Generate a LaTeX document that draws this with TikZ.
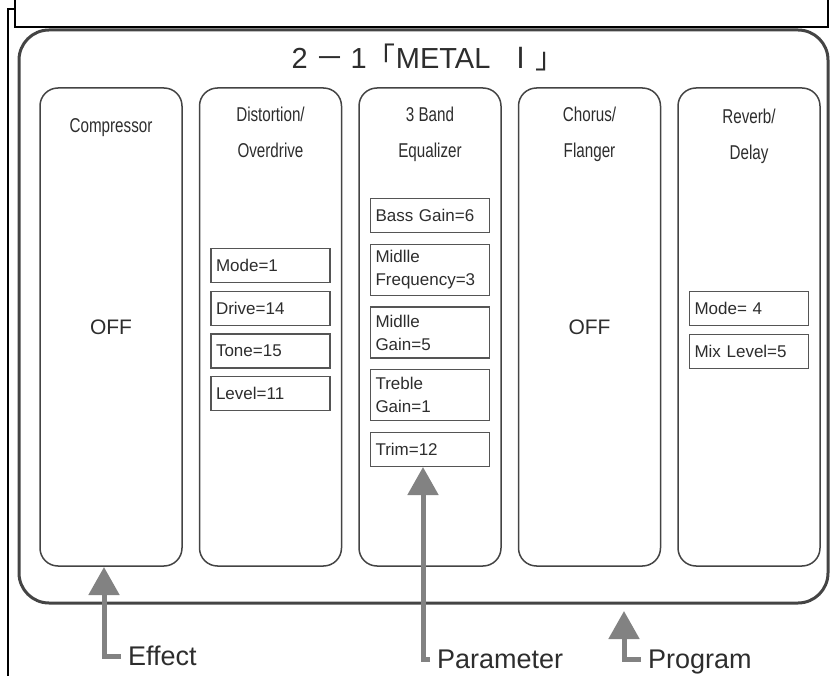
\documentclass[tikz,border=0pt]{standalone}
\usepackage{fontspec}
\setmainfont{Liberation Sans}
\newfontfamily\narrowfont{Liberation Sans}[FakeStretch=0.76]
\newfontfamily\cjk{Noto Sans CJK JP}
\usetikzlibrary{arrows.meta,positioning}
\definecolor{frameink}{RGB}{68,68,68}
\definecolor{boxink}{RGB}{85,85,85}
\definecolor{arrowgray}{RGB}{130,130,130}
\definecolor{printink}{RGB}{45,45,45}

\begin{document}
\begin{tikzpicture}[x=1pt,y=-1pt,
  node distance=7.5pt and 16pt,
  effect/.style={draw=frameink,line width=1.5pt,rounded corners=18pt,
    minimum width=142pt,minimum height=478pt,inner sep=0pt},
  fxname/.style={font=\narrowfont\fontsize{20}{36}\selectfont,align=center,
    inner sep=0pt,text=printink},
  param/.style={draw=boxink,line width=1.1pt,text width=109pt,inner xsep=5pt,
    inner ysep=0pt,minimum height=34pt,align=left,
    font=\fontsize{17}{23}\selectfont,text=printink},
  twoline/.style={param,minimum height=51pt},
  offtext/.style={font=\fontsize{21}{25}\selectfont,text=printink},
  pointer/.style={draw=arrowgray,line width=5pt,
    -{Triangle[length=28pt,width=30pt]}},
  callout/.style={font=\fontsize{27}{30}\selectfont,inner ysep=0pt,
    inner xsep=7pt,text depth=0pt,anchor=west,text=printink}]
  \useasboundingbox (0,0) rectangle (830,676);
  % scan frame
  \draw[line width=3pt,draw=frameink,rounded corners=30pt] (19,30) rectangle (828,603);
  \draw[line width=1.5pt,fill=white] (15,-5) rectangle (828,27);
  \draw[line width=1.5pt] (8,676) -- (8,9) -- (15,9);
  \node[font=\fontsize{29}{32}\selectfont,text=printink] (preset) at (428,57)
    {2\hspace{8pt}{\cjk －}\hspace{6pt}1{\cjk 「}METAL\hspace{16pt}{\cjk Ⅰ」}};
  % effect columns
  \node[effect] (comp) at (111,327) {};
  \node[effect,right=of comp] (dist) {};
  \node[effect,right=of dist] (eq) {};
  \node[effect,right=of eq] (chorus) {};
  \node[effect,right=of chorus] (reverb) {};
  \node[fxname,below=31pt of comp.north] (compname) {Compressor};
  \node[fxname,below=19.5pt of dist.north] (distname) {Distortion/\\Overdrive};
  \node[fxname,below=19.5pt of eq.north] (eqname) {3 Band\\Equalizer};
  \node[fxname,below=19.5pt of chorus.north] (chorusname) {Chorus/\\Flanger};
  \node[fxname,below=22pt of reverb.north] (reverbname) {Reverb/\\Delay};
  \node[offtext] (compoff) at (comp) {OFF};
  \node[offtext] (chorusoff) at (chorus) {OFF};
  % parameters
  \node[param,below=161pt of dist.north] (mode) {Mode=1};
  \node[param,below=of mode] (drive) {Drive=14};
  \node[param,below=of drive] (tone) {Tone=15};
  \node[param,below=of tone] (level) {Level=11};
  \node[param,below=111pt of eq.north] (bass) {Bass Gain=6};
  \node[twoline,below=10.5pt of bass] (midfreq) {Midlle\\Frequency=3};
  \node[twoline,below=10.5pt of midfreq] (midgain) {Midlle\\Gain=5};
  \node[twoline,below=10.5pt of midgain] (treble) {Treble\\Gain=1};
  \node[param,below=10.5pt of treble] (trim) {Trim=12};
  \node[param,below=204pt of reverb.north] (revmode) {Mode= 4};
  \node[param,below=of revmode] (mixlevel) {Mix Level=5};
  % callouts
  \node[callout] (efflabel) at (121,656) {Effect};
  \node[callout] (paramlabel) at (430,659) {Parameter};
  \node[callout] (proglabel) at (641,659) {Program};
  \coordinate (efftip) at (104,567);
  \coordinate (paramtip) at (423,467);
  \coordinate (progtip) at (624,611);
  \draw[pointer] (efflabel.west) -| (efftip);
  \draw[pointer] (paramlabel.west) -| (paramtip);
  \draw[pointer] (proglabel.west) -| (progtip);
\end{tikzpicture}
\end{document}
